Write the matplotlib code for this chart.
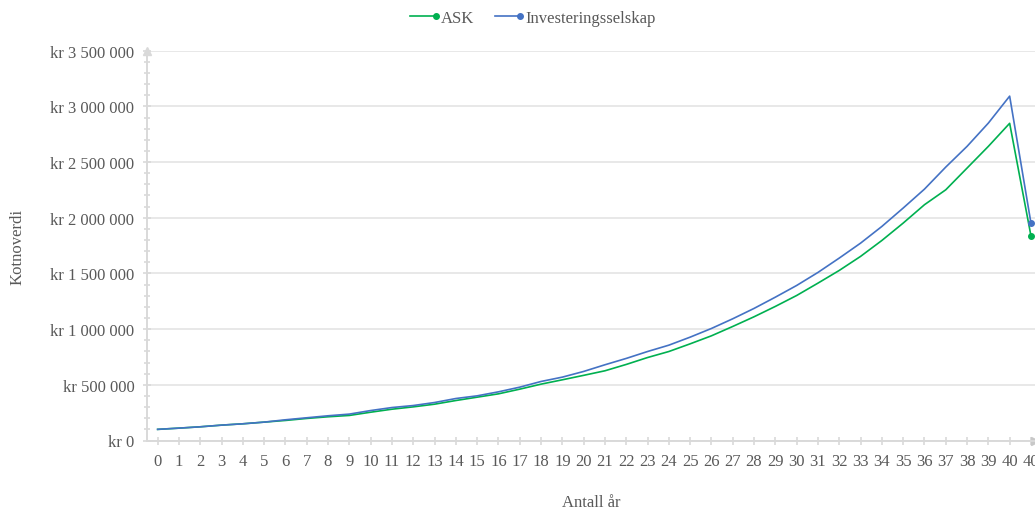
import matplotlib
matplotlib.use("Agg")
import matplotlib.pyplot as plt
from matplotlib.legend_handler import HandlerBase
from matplotlib.lines import Line2D
from matplotlib.ticker import FuncFormatter, MultipleLocator

# Kontoverdi per år, siste punkt er etter skatt ved uttak (år 40)
years = [str(i) for i in range(41)] + ["40"]
ask = [100000, 111000, 123000, 138000, 150000, 165000, 180000, 198000, 213000, 225000,
       254000, 281000, 302000, 326000, 359000, 389000, 419000, 461000, 506000, 545000,
       585000, 626000, 683000, 745000, 799000, 868000, 940000, 1024000, 1111000, 1204000,
       1302000, 1413000, 1527000, 1653000, 1796000, 1952000, 2117000, 2251000, 2446000,
       2641000, 2848000, 1838000]
invest = [100000, 111000, 123000, 138000, 150000, 165000, 186000, 204000, 222000, 237000,
          269000, 296000, 314000, 341000, 377000, 401000, 437000, 479000, 530000, 569000,
          620000, 680000, 737000, 799000, 856000, 928000, 1006000, 1093000, 1186000, 1287000,
          1392000, 1509000, 1638000, 1772000, 1922000, 2087000, 2257000, 2455000, 2641000,
          2850000, 3092000, 1952000]

GREEN = "#00B050"
BLUE = "#4472C4"
TEXT = "#595959"
AXIS = "#D9D9D9"

plt.rcParams["font.family"] = ["Liberation Serif", "DejaVu Serif"]
plt.rcParams["font.size"] = 12


class EndDotHandler(HandlerBase):
    """Legend entry: a short line with a single dot at its right end."""

    def create_artists(self, legend, orig_handle, xdescent, ydescent, width, height, fontsize, trans):
        y = height / 2 - ydescent
        color = orig_handle.get_color()
        line = Line2D([-xdescent, width - xdescent], [y, y], color=color,
                      lw=orig_handle.get_linewidth(), transform=trans)
        dot = Line2D([width - xdescent], [y], color=color, marker="o", ls="none",
                     ms=orig_handle.get_markersize(), transform=trans)
        return [line, dot]


fig = plt.figure(figsize=(10.35, 5.1), dpi=100)
ax = fig.add_axes([147 / 1035, (510 - 441.5) / 510, 888 / 1035, (441.5 - 51.7) / 510])

x = list(range(len(years)))
last = len(years) - 1
l_ask, = ax.plot(x, ask, color=GREEN, lw=1.2, marker="o", ms=4, markevery=[last], clip_on=False, zorder=3)
l_inv, = ax.plot(x, invest, color=BLUE, lw=1.2, marker="o", ms=4, markevery=[last], clip_on=False, zorder=3)

ax.set_xlim(-0.5, 41.19)
ax.set_ylim(0, 3500000)
ax.set_xticks(x)
ax.set_xticklabels(years)
ax.yaxis.set_major_locator(MultipleLocator(500000))
ax.yaxis.set_minor_locator(MultipleLocator(100000))


def kr(v, _pos):
    return "kr " + f"{int(round(v)):,}".replace(",", " ")


ax.yaxis.set_major_formatter(FuncFormatter(kr))

ax.grid(axis="y", which="major", color="#E8E8E8", lw=1.4)
ax.set_axisbelow(True)
for side in ("top", "right"):
    ax.spines[side].set_visible(False)
for side in ("left", "bottom"):
    ax.spines[side].set_color(AXIS)
    ax.spines[side].set_linewidth(1.4)
ax.tick_params(axis="both", which="both", direction="inout", color=AXIS, width=1.2, labelcolor=TEXT)
ax.tick_params(axis="y", which="major", length=6, pad=6)
ax.tick_params(axis="y", which="minor", length=5)
ax.tick_params(axis="x", length=6, pad=6)

# pilspisser på aksene
ax.plot([0], [1.0], marker="^", ms=6, color=AXIS, transform=ax.transAxes, clip_on=False)
ax.plot([1.0], [0], marker=">", ms=6, color="#C8C8C8", transform=ax.transAxes, clip_on=False)

fig.text(18 / 1035, 1 - 247 / 510, "Kotnoverdi", rotation=90, ha="center", va="center", color=TEXT)
fig.text(591 / 1035, 1 - 503 / 510, "Antall år", ha="center", va="center", color=TEXT)

fig.legend([l_ask, l_inv], ["ASK", "Investeringsselskap"], loc="center",
           bbox_to_anchor=(533 / 1035, 1 - 19 / 510), ncol=2, frameon=False,
           handler_map={Line2D: EndDotHandler()}, handlelength=1.55, handletextpad=0.3,
           columnspacing=1.2, labelcolor=TEXT)

fig.savefig("out.png", dpi=100)
